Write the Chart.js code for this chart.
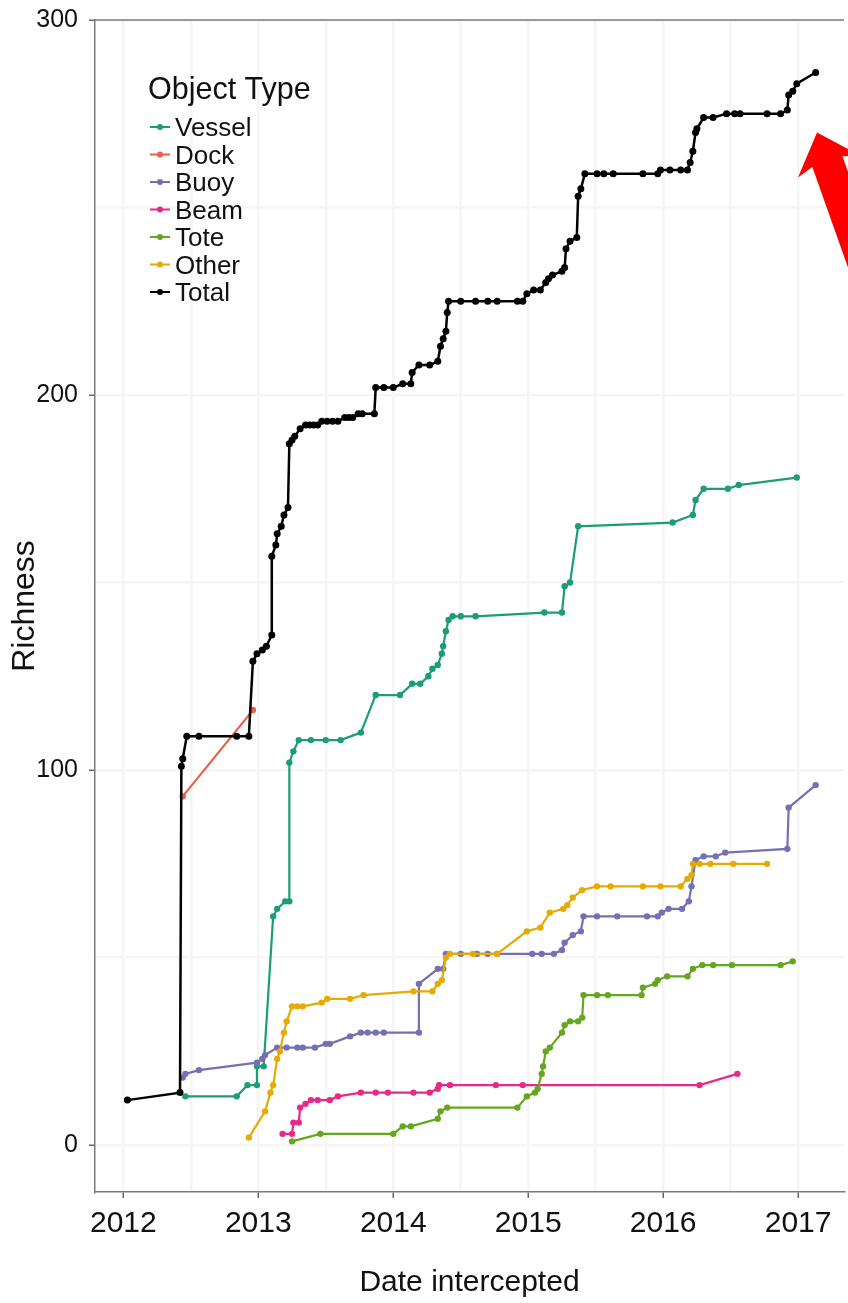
<!DOCTYPE html>
<html>
<head>
<meta charset="utf-8">
<title>Richness by object type</title>
<script src="https://cdn.jsdelivr.net/npm/chart.js@4.4.0/dist/chart.umd.min.js"></script>
<style>
  html, body { margin: 0; padding: 0; background: #ffffff; }
  #wrap { width: 848px; height: 1303px; }
</style>
</head>
<body>
<div id="wrap"><canvas id="richnessChart" width="848" height="1303"></canvas></div>
<script>
// dates are decimal years, richness is the cumulative species count
var vesselDates = [2012.46, 2012.84, 2012.92, 2012.99, 2012.99, 2013.04, 2013.11, 2013.14, 2013.20, 2013.23, 2013.23, 2013.26, 2013.30, 2013.39, 2013.50, 2013.61, 2013.76, 2013.87, 2014.05, 2014.14, 2014.20, 2014.26, 2014.29, 2014.33, 2014.36, 2014.37, 2014.39, 2014.41, 2014.44, 2014.50, 2014.61, 2015.12, 2015.25, 2015.27, 2015.31, 2015.37, 2016.07, 2016.22, 2016.24, 2016.30, 2016.48, 2016.56, 2016.99];
var vesselRichness = [13, 13, 16, 16, 21, 21, 61, 63, 65, 65, 102, 105, 108, 108, 108, 108, 110, 120, 120, 123, 123, 125, 127, 128, 131, 133, 137, 140, 141, 141, 141, 142, 142, 149, 150, 165, 166, 168, 172, 175, 175, 176, 178];

var dockDates = [2012.44, 2012.96];
var dockRichness = [93, 116];

var buoyDates = [2012.44, 2012.46, 2012.56, 2012.99, 2013.03, 2013.05, 2013.14, 2013.21, 2013.29, 2013.33, 2013.42, 2013.50, 2013.53, 2013.68, 2013.76, 2013.81, 2013.87, 2013.93, 2014.19, 2014.19, 2014.33, 2014.37, 2014.39, 2014.50, 2014.62, 2014.70, 2014.77, 2015.03, 2015.10, 2015.19, 2015.25, 2015.27, 2015.33, 2015.39, 2015.41, 2015.51, 2015.66, 2015.88, 2015.96, 2015.99, 2016.04, 2016.14, 2016.19, 2016.21, 2016.24, 2016.30, 2016.39, 2016.46, 2016.92, 2016.93, 2017.13];
var buoyRichness = [18, 19, 20, 22, 23, 24, 26, 26, 26, 26, 26, 27, 27, 29, 30, 30, 30, 30, 30, 43, 47, 47, 51, 51, 51, 51, 51, 51, 51, 51, 52, 54, 56, 57, 61, 61, 61, 61, 61, 62, 63, 63, 65, 69, 76, 77, 77, 78, 79, 90, 96];

var beamDates = [2013.18, 2013.25, 2013.26, 2013.30, 2013.31, 2013.35, 2013.39, 2013.44, 2013.53, 2013.59, 2013.76, 2013.87, 2013.96, 2014.15, 2014.27, 2014.33, 2014.34, 2014.42, 2014.76, 2014.96, 2016.27, 2016.55];
var beamRichness = [3, 3, 6, 6, 10, 11, 12, 12, 12, 13, 14, 14, 14, 14, 14, 15, 16, 16, 16, 16, 16, 19];

var toteDates = [2013.25, 2013.46, 2014.00, 2014.07, 2014.13, 2014.33, 2014.35, 2014.40, 2014.92, 2014.99, 2015.05, 2015.07, 2015.10, 2015.11, 2015.13, 2015.16, 2015.25, 2015.27, 2015.31, 2015.37, 2015.40, 2015.41, 2015.51, 2015.59, 2015.84, 2015.85, 2015.94, 2015.96, 2016.03, 2016.18, 2016.22, 2016.29, 2016.37, 2016.51, 2016.87, 2016.96];
var toteRichness = [1, 3, 3, 5, 5, 7, 9, 10, 10, 13, 14, 15, 19, 21, 25, 26, 30, 32, 33, 33, 34, 40, 40, 40, 40, 42, 43, 44, 45, 45, 47, 48, 48, 48, 48, 49];

var otherDates = [2012.93, 2013.05, 2013.09, 2013.11, 2013.14, 2013.16, 2013.19, 2013.21, 2013.25, 2013.29, 2013.33, 2013.47, 2013.51, 2013.68, 2013.78, 2014.15, 2014.29, 2014.33, 2014.36, 2014.39, 2014.42, 2014.59, 2014.77, 2014.99, 2015.09, 2015.16, 2015.26, 2015.29, 2015.33, 2015.40, 2015.51, 2015.61, 2015.85, 2015.98, 2016.13, 2016.18, 2016.21, 2016.22, 2016.27, 2016.35, 2016.52, 2016.77];
var otherRichness = [2, 9, 14, 16, 23, 25, 30, 33, 37, 37, 37, 38, 39, 39, 40, 41, 41, 43, 44, 50, 51, 51, 51, 57, 58, 62, 63, 64, 66, 68, 69, 69, 69, 69, 69, 71, 72, 75, 75, 75, 75, 75];

var totalDates = [2012.03, 2012.42, 2012.43, 2012.44, 2012.47, 2012.56, 2012.84, 2012.93, 2012.96, 2012.99, 2013.03, 2013.06, 2013.10, 2013.10, 2013.13, 2013.14, 2013.17, 2013.19, 2013.22, 2013.23, 2013.25, 2013.27, 2013.31, 2013.35, 2013.38, 2013.41, 2013.44, 2013.47, 2013.51, 2013.55, 2013.59, 2013.64, 2013.67, 2013.70, 2013.74, 2013.77, 2013.86, 2013.87, 2013.93, 2014.00, 2014.07, 2014.13, 2014.14, 2014.19, 2014.27, 2014.33, 2014.35, 2014.37, 2014.39, 2014.40, 2014.41, 2014.50, 2014.61, 2014.70, 2014.77, 2014.92, 2014.96, 2014.99, 2015.04, 2015.09, 2015.13, 2015.15, 2015.18, 2015.25, 2015.27, 2015.28, 2015.31, 2015.36, 2015.37, 2015.39, 2015.42, 2015.51, 2015.56, 2015.63, 2015.85, 2015.96, 2015.98, 2016.05, 2016.13, 2016.18, 2016.20, 2016.22, 2016.24, 2016.25, 2016.30, 2016.37, 2016.47, 2016.53, 2016.57, 2016.77, 2016.87, 2016.92, 2016.93, 2016.96, 2016.99, 2017.13];
var totalRichness = [12, 14, 101, 103, 109, 109, 109, 109, 129, 131, 132, 133, 136, 157, 160, 163, 165, 168, 170, 187, 188, 189, 191, 192, 192, 192, 192, 193, 193, 193, 193, 194, 194, 194, 195, 195, 195, 202, 202, 202, 203, 203, 206, 208, 208, 209, 213, 215, 217, 222, 225, 225, 225, 225, 225, 225, 225, 227, 228, 228, 230, 231, 232, 233, 234, 239, 241, 242, 253, 255, 259, 259, 259, 259, 259, 259, 260, 260, 260, 260, 262, 265, 270, 271, 274, 274, 275, 275, 275, 275, 275, 276, 280, 281, 283, 286];

var yearTicks = [2012, 2013, 2014, 2015, 2016, 2017];
var richnessTicks = [0, 100, 200, 300];

var FONT = "'Liberation Sans', Arial, Helvetica, sans-serif";
var INK = '#111111';

function points(dates, values) {
  return dates.map(function (d, i) { return { x: d, y: values[i] }; });
}

function series(label, color, dates, values, order, width, radius) {
  return {
    label: label,
    data: points(dates, values),
    borderColor: color,
    backgroundColor: color,
    pointBackgroundColor: color,
    pointBorderWidth: 0,
    pointRadius: radius || 3.2,
    borderWidth: width || 2.2,
    tension: 0,
    order: order
  };
}

var datasets = [
  series('Vessel', '#1b9e77', vesselDates, vesselRichness, 6),
  series('Dock', '#e8604a', dockDates, dockRichness, 5),
  series('Buoy', '#7570b3', buoyDates, buoyRichness, 4),
  series('Beam', '#e7298a', beamDates, beamRichness, 3),
  series('Tote', '#66a61e', toteDates, toteRichness, 2),
  series('Other', '#e6ab02', otherDates, otherRichness, 1),
  series('Total', '#000000', totalDates, totalRichness, 0, 2.5, 3.5)
];

// half-year / 50-unit grid, labels only on the major ticks
var xGrid = [];
yearTicks.forEach(function (y) { xGrid.push(y); xGrid.push(y + 0.5); });
var yGrid = [];
richnessTicks.forEach(function (v) { yGrid.push(v); if (v < 300) yGrid.push(v + 50); });

// panel frame line across the top
var framePlugin = {
  id: 'frame',
  afterDraw: function (chart) {
    var a = chart.chartArea, ctx = chart.ctx;
    ctx.save();
    ctx.strokeStyle = '#7a7a7a';
    ctx.lineWidth = 1.5;
    ctx.beginPath();
    ctx.moveTo(a.left, a.top);
    ctx.lineTo(a.right, a.top);
    ctx.stroke();
    ctx.restore();
  }
};

// key with a line and dot for each series, placed inside the panel
var keyPlugin = {
  id: 'objectKey',
  afterDraw: function (chart) {
    var ctx = chart.ctx, a = chart.chartArea;
    var left = a.left + 53;
    ctx.save();
    ctx.fillStyle = INK;
    ctx.textBaseline = 'alphabetic';
    ctx.font = '30.5px ' + FONT;
    ctx.fillText('Object Type', left, a.top + 79);
    ctx.font = '26px ' + FONT;
    chart.data.datasets.forEach(function (ds, i) {
      var base = a.top + 116 + i * 27.5;
      var mid = base - 9;
      ctx.strokeStyle = ds.borderColor;
      ctx.lineWidth = 2;
      ctx.beginPath();
      ctx.moveTo(left + 2, mid);
      ctx.lineTo(left + 22, mid);
      ctx.stroke();
      ctx.fillStyle = ds.borderColor;
      ctx.beginPath();
      ctx.arc(left + 12, mid, 3, 0, Math.PI * 2);
      ctx.fill();
      ctx.fillStyle = INK;
      ctx.fillText(ds.label, left + 27, base);
    });
    ctx.restore();
  }
};

// red pointer aimed at the latest total
var arrowTip = { x: 2017.14, y: 270 };
var arrowPlugin = {
  id: 'pointer',
  afterDraw: function (chart) {
    var ctx = chart.ctx;
    var tx = chart.scales.x.getPixelForValue(arrowTip.x);
    var ty = chart.scales.y.getPixelForValue(arrowTip.y);
    var d = [0.335, 0.942], n = [0.942, -0.335];
    var shape = [[0, 0], [36, -33], [31, -16], [420, -16], [420, 16], [31, 16], [36, 33]];
    ctx.save();
    ctx.fillStyle = '#ff0000';
    ctx.beginPath();
    shape.forEach(function (p, i) {
      var px = tx + p[0] * d[0] + p[1] * n[0];
      var py = ty + p[0] * d[1] + p[1] * n[1];
      if (i === 0) ctx.moveTo(px, py); else ctx.lineTo(px, py);
    });
    ctx.closePath();
    ctx.fill();
    ctx.restore();
  }
};

var config = {
  type: 'line',
  data: { datasets: datasets },
  options: {
    responsive: false,
    animation: false,
    layout: { padding: { top: 20, right: 0, bottom: 0, left: 0 } },
    plugins: {
      legend: { display: false },
      tooltip: { enabled: false }
    },
    scales: {
      x: {
        type: 'linear',
        min: 2011.79,
        max: 2017.34,
        afterBuildTicks: function (s) { s.ticks = xGrid.map(function (v) { return { value: v }; }); },
        afterFit: function (s) { s.height = 111; s.paddingLeft = 0; s.paddingRight = 0; },
        ticks: {
          autoSkip: false,
          maxRotation: 0,
          padding: 8,
          color: INK,
          font: { family: FONT, size: 30 },
          callback: function (v) { return yearTicks.indexOf(v) >= 0 ? String(v) : ''; }
        },
        grid: {
          color: '#f5f5f5',
          lineWidth: 2.5,
          tickLength: 6,
          tickWidth: 1.5,
          tickColor: function (c) { return c.tick && yearTicks.indexOf(c.tick.value) >= 0 ? '#666666' : 'rgba(0,0,0,0)'; }
        },
        border: { display: true, color: '#7a7a7a', width: 1.5 },
        title: {
          display: true,
          text: 'Date intercepted',
          color: INK,
          font: { family: FONT, size: 30 },
          padding: { top: 0, bottom: 2 }
        }
      },
      y: {
        type: 'linear',
        min: -12.5,
        max: 300,
        afterBuildTicks: function (s) { s.ticks = yGrid.map(function (v) { return { value: v }; }); },
        afterFit: function (s) { s.width = 95; s.paddingTop = 0; s.paddingBottom = 0; },
        ticks: {
          padding: 11,
          color: INK,
          font: { family: FONT, size: 25 },
          callback: function (v) { return richnessTicks.indexOf(v) >= 0 ? String(v) : ''; }
        },
        grid: {
          color: '#f5f5f5',
          lineWidth: 2.5,
          tickLength: 6,
          tickWidth: 1.5,
          tickColor: function (c) { return c.tick && richnessTicks.indexOf(c.tick.value) >= 0 ? '#666666' : 'rgba(0,0,0,0)'; }
        },
        border: { display: true, color: '#7a7a7a', width: 1.5 },
        title: {
          display: true,
          text: 'Richness',
          color: INK,
          font: { family: FONT, size: 32 },
          padding: { top: 6, bottom: 0 }
        }
      }
    }
  },
  plugins: [framePlugin, keyPlugin, arrowPlugin]
};

var richnessChart = new Chart(document.getElementById('richnessChart'), config);
</script>
</body>
</html>
